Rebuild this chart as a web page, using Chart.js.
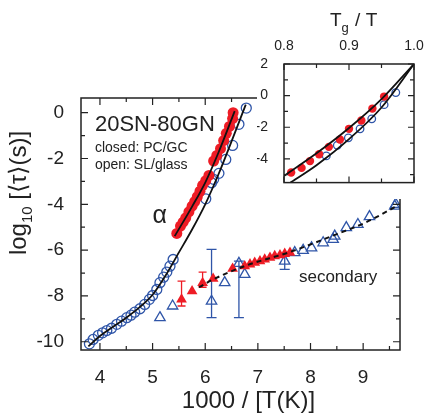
<!DOCTYPE html>
<html>
<head>
<meta charset="utf-8">
<script src="https://cdn.jsdelivr.net/npm/chart.js@4.4.1/dist/chart.umd.min.js"></script>
<style>
  html, body { margin: 0; padding: 0; background: #fff; }
  #wrap { position: relative; width: 425px; height: 413px; }
  #mainChart { position: absolute; left: 0; top: 0; }
  #insetChart { position: absolute; left: 257px; top: 0; background: #fff; }
</style>
</head>
<body>
<div id="wrap">
  <canvas id="mainChart" width="425" height="413"></canvas>
  <canvas id="insetChart" width="168" height="199"></canvas>
</div>
<script>
const FONT = "'Liberation Sans', Arial, sans-serif";
const INK = '#222';
const RED = '#ee1c25';
const BLUE = '#2f55a8';

// alpha relaxation, open circles (SL/glass)
const alphaOpenX = [3.80, 3.87, 3.97, 4.05, 4.13, 4.22, 4.32, 4.41, 4.51, 4.59, 4.66, 4.76, 4.85, 4.94, 5.00, 5.08, 5.14, 5.21, 5.27, 5.33, 5.39, 6.01, 6.12, 6.16, 6.26, 6.39, 6.52, 6.64, 6.78];
const alphaOpenY = [-10.09, -9.90, -9.72, -9.61, -9.51, -9.41, -9.24, -9.10, -8.95, -8.84, -8.71, -8.56, -8.37, -8.15, -7.98, -7.72, -7.42, -7.18, -6.96, -6.70, -6.41, -3.76, -3.06, -2.91, -2.65, -2.04, -1.43, -0.51, 0.20];
// alpha relaxation, closed circles (PC/GC)
const alphaClosedX = [5.46, 5.53, 5.58, 5.63, 5.69, 5.75, 5.80, 5.85, 5.90, 5.95, 6.01, 6.07, 6.16, 6.22, 6.29, 6.35, 6.40, 6.46, 6.52, 6.53];
const alphaClosedY = [-5.27, -4.95, -4.78, -4.59, -4.33, -4.08, -3.88, -3.67, -3.43, -3.17, -2.97, -2.74, -2.11, -1.87, -1.57, -1.22, -0.90, -0.60, -0.26, 0.00];
// fit curves
const alphaOpenFitX = [3.78, 4.0, 4.25, 4.5, 4.75, 5.0, 5.25, 5.5, 5.75, 6.0, 6.25, 6.5, 6.77];
const alphaOpenFitY = [-10.2, -9.75, -9.35, -8.95, -8.5, -7.95, -7.1, -6.1, -5.1, -4.0, -2.7, -1.25, 0.35];
const alphaClosedFitX = [5.42, 5.75, 6.0, 6.25, 6.56];
const alphaClosedFitY = [-5.39, -4.1, -3.05, -1.75, 0.07];

// secondary relaxation
const secOpenX = [5.14, 5.38, 6.12, 6.37, 6.64, 6.75, 7.51, 7.70, 7.86, 8.02, 8.24, 8.43, 8.46, 8.68, 8.90, 9.12, 9.60, 9.62];
const secOpenY = [-8.95, -8.44, -8.23, -7.42, -6.58, -7.06, -6.48, -6.11, -6.01, -5.90, -5.68, -5.53, -5.39, -5.02, -4.88, -4.54, -4.08, -4.00];
const secClosedX = [5.55, 5.75, 5.95, 6.15, 6.52, 6.75, 6.85, 6.94, 7.04, 7.13, 7.23, 7.32, 7.42, 7.51, 7.61];
const secClosedY = [-8.15, -7.79, -7.43, -7.25, -6.81, -6.70, -6.62, -6.55, -6.48, -6.41, -6.33, -6.26, -6.22, -6.16, -6.11];
const secFitX = [5.88, 6.15, 6.78, 7.60, 8.49, 9.06, 9.66];
const secFitY = [-7.62, -7.28, -6.67, -6.09, -5.31, -4.78, -4.05];

// error bars
const secOpenErrX = [6.12, 6.64, 7.51];
const secOpenErrLo = [-8.95, -8.95, -6.84];
const secOpenErrHi = [-5.97, -6.48, -6.20];
const secClosedErrX = [5.55, 5.95];
const secClosedErrLo = [-8.44, -7.62];
const secClosedErrHi = [-7.35, -6.96];

// ticks
const xMajor = [4, 5, 6, 7, 8, 9];
const xMinor = [4.5, 5.5, 6.5, 7.5, 8.5, 9.5];
const yMajor = [0, -2, -4, -6, -8, -10];
const yMinor = [-1, -3, -5, -7, -9];

// inset (Tg / T scaling)
const insetClosedX = [0.811, 0.827, 0.840, 0.854, 0.869, 0.886, 0.900, 0.919, 0.936, 0.954];
const insetClosedY = [-4.86, -4.57, -4.14, -3.71, -3.24, -2.77, -2.10, -1.57, -0.82, -0.06];
const insetOpenX = [0.865, 0.882, 0.899, 0.917, 0.935, 0.954, 0.972];
const insetOpenY = [-3.81, -3.14, -2.67, -2.10, -1.47, -0.57, 0.19];
const insetClosedFitX = [0.80, 0.85, 0.90, 0.95, 1.0];
const insetClosedFitY = [-5.08, -3.65, -2.05, -0.22, 2.0];
const insetOpenFitX = [0.808, 0.85, 0.90, 0.95, 1.0];
const insetOpenFitY = [-5.55, -4.4, -2.75, -0.75, 2.0];
const insetXMajor = [0.8, 0.9, 1.0];
const insetXMinor = [0.85, 0.95];
const insetYMajor = [2, 0, -2, -4];
const insetYMinor = [1, -1, -3, -5];

const pts = (xs, ys) => xs.map((x, i) => ({ x: x, y: ys[i] }));

function fitLine(xs, ys, dashed) {
    return {
        data: pts(xs, ys),
        showLine: true,
        borderColor: '#111',
        borderWidth: dashed ? 2 : 1.8,
        borderDash: dashed ? [5, 4] : [],
        pointRadius: 0,
        cubicInterpolationMode: 'monotone',
        fill: false
    };
}

function marks(xs, ys, style, filled, color, r) {
    return {
        data: pts(xs, ys),
        showLine: false,
        pointStyle: style,
        pointRadius: r,
        pointBackgroundColor: filled ? color : 'rgba(0,0,0,0)',
        pointBorderColor: color,
        pointBorderWidth: filled ? 0 : 1.3
    };
}

// frame with inward ticks on all four sides
function framePlugin(id, o) {
    return {
        id: id,
        afterDatasetsDraw(chart) {
            const { ctx, chartArea: a, scales } = chart;
            ctx.save();
            ctx.strokeStyle = INK;
            ctx.lineWidth = 1.5;
            ctx.strokeRect(a.left, a.top, a.right - a.left, a.bottom - a.top);
            ctx.lineWidth = 1.2;
            const xt = (vals, len) => vals.forEach(v => {
                const px = scales.x.getPixelForValue(v);
                ctx.beginPath();
                ctx.moveTo(px, a.bottom); ctx.lineTo(px, a.bottom - len);
                ctx.moveTo(px, a.top); ctx.lineTo(px, a.top + len);
                ctx.stroke();
            });
            const yt = (vals, len) => vals.forEach(v => {
                const py = scales.y.getPixelForValue(v);
                ctx.beginPath();
                ctx.moveTo(a.left, py); ctx.lineTo(a.left + len, py);
                ctx.moveTo(a.right, py); ctx.lineTo(a.right - len, py);
                ctx.stroke();
            });
            xt(o.xMajor, o.major); xt(o.xMinor, o.minor);
            yt(o.yMajor, o.major); yt(o.yMinor, o.minor);
            ctx.restore();
        }
    };
}

const errorBars = {
    id: 'errorBars',
    beforeDatasetsDraw(chart) {
        const { ctx, scales } = chart;
        const draw = (xs, lo, hi, color, cap) => {
            ctx.strokeStyle = color;
            ctx.lineWidth = 1.3;
            xs.forEach((x, i) => {
                const px = scales.x.getPixelForValue(x);
                const p1 = scales.y.getPixelForValue(lo[i]);
                const p2 = scales.y.getPixelForValue(hi[i]);
                ctx.beginPath();
                ctx.moveTo(px, p1); ctx.lineTo(px, p2);
                ctx.moveTo(px - cap, p1); ctx.lineTo(px + cap, p1);
                ctx.moveTo(px - cap, p2); ctx.lineTo(px + cap, p2);
                ctx.stroke();
            });
        };
        ctx.save();
        draw(secOpenErrX, secOpenErrLo, secOpenErrHi, BLUE, 5);
        draw(secClosedErrX, secClosedErrLo, secClosedErrHi, RED, 4);
        ctx.restore();
    }
};

const mainText = {
    id: 'mainText',
    afterDraw(chart) {
        const { ctx, chartArea: a, scales } = chart;
        const X = v => scales.x.getPixelForValue(v);
        const Y = v => scales.y.getPixelForValue(v);
        ctx.save();
        ctx.fillStyle = INK;
        ctx.textBaseline = 'alphabetic';
        ctx.textAlign = 'left';
        ctx.font = '22px ' + FONT;
        ctx.fillText('20SN-80GN', X(3.905), Y(-0.80));
        ctx.font = '14px ' + FONT;
        ctx.fillText('closed: PC/GC', X(3.905), Y(-1.72));
        ctx.fillText('open: SL/glass', X(3.905), Y(-2.46));
        ctx.font = '25px ' + FONT;
        ctx.fillText('\u03b1', X(5.0), Y(-4.80));
        ctx.font = '17px ' + FONT;
        ctx.fillText('secondary', X(7.78), Y(-7.37));

        // x axis title
        ctx.font = '24px ' + FONT;
        ctx.textAlign = 'center';
        ctx.fillText('1000 / [T(K)]', (a.left + a.right) / 2 + 8, a.bottom + 58);

        // y axis title with subscript
        const parts = [['log', 24, 0], ['10', 15, 6], [' [\u27e8\u03c4\u27e9(s)]', 24, 0]];
        let total = 0;
        parts.forEach(p => { ctx.font = p[1] + 'px ' + FONT; total += ctx.measureText(p[0]).width; });
        ctx.translate(26, 193);
        ctx.rotate(-Math.PI / 2);
        ctx.textAlign = 'left';
        let cx = -total / 2;
        parts.forEach(p => {
            ctx.font = p[1] + 'px ' + FONT;
            ctx.fillText(p[0], cx, p[2]);
            cx += ctx.measureText(p[0]).width;
        });
        ctx.restore();
    }
};

new Chart(document.getElementById('mainChart'), {
    type: 'scatter',
    data: {
        datasets: [
            fitLine(alphaClosedFitX, alphaClosedFitY, false),
            fitLine(alphaOpenFitX, alphaOpenFitY, false),
            fitLine(secFitX, secFitY, true),
            marks(alphaClosedX, alphaClosedY, 'circle', true, RED, 5.5),
            marks(alphaOpenX, alphaOpenY, 'circle', false, BLUE, 5),
            marks(secClosedX, secClosedY, 'triangle', true, RED, 6.2),
            marks(secOpenX, secOpenY, 'triangle', false, BLUE, 6)
        ]
    },
    options: {
        responsive: false,
        animation: false,
        layout: { padding: { left: 0, top: 98, right: 25, bottom: 0 } },
        plugins: { legend: { display: false }, tooltip: { enabled: false } },
        scales: {
            x: {
                type: 'linear', min: 3.64, max: 9.7,
                grid: { display: false }, border: { display: false },
                ticks: { padding: 8, color: INK, font: { size: 19, family: FONT }, maxRotation: 0, autoSkip: false },
                afterBuildTicks: s => { s.ticks = xMajor.map(v => ({ value: v })); },
                afterFit: s => { s.height = 63; }
            },
            y: {
                type: 'linear', min: -10.36, max: 0.64,
                grid: { display: false }, border: { display: false },
                ticks: { padding: 9, color: INK, font: { size: 19, family: FONT }, autoSkip: false },
                afterBuildTicks: s => { s.ticks = yMajor.map(v => ({ value: v })); },
                afterFit: s => { s.width = 81; }
            }
        }
    },
    plugins: [errorBars, framePlugin('mainFrame', { xMajor, xMinor, yMajor, yMinor, major: 7, minor: 4 }), mainText]
});

const insetText = {
    id: 'insetText',
    afterDraw(chart) {
        const ctx = chart.ctx;
        ctx.save();
        ctx.fillStyle = INK;
        ctx.textBaseline = 'alphabetic';
        ctx.textAlign = 'left';
        let x = 73;
        ctx.font = '19px ' + FONT;
        ctx.fillText('T', x, 26);
        x += ctx.measureText('T').width;
        ctx.font = '13px ' + FONT;
        ctx.fillText('g', x, 32);
        x += ctx.measureText('g').width + 1;
        ctx.font = '19px ' + FONT;
        ctx.fillText(' / T', x, 26);
        ctx.restore();
    }
};

new Chart(document.getElementById('insetChart'), {
    type: 'scatter',
    data: {
        datasets: [
            fitLine(insetClosedFitX, insetClosedFitY, false),
            fitLine(insetOpenFitX, insetOpenFitY, false),
            marks(insetClosedX, insetClosedY, 'circle', true, RED, 4.2),
            marks(insetOpenX, insetOpenY, 'circle', false, BLUE, 3.8)
        ]
    },
    options: {
        responsive: false,
        animation: false,
        layout: { padding: { left: 0, top: 0, right: 11, bottom: 4 } },
        plugins: { legend: { display: false }, tooltip: { enabled: false } },
        scales: {
            x: {
                type: 'linear', position: 'top', min: 0.8, max: 1.0,
                grid: { display: false }, border: { display: false },
                ticks: { padding: 1, color: INK, font: { size: 14, family: FONT }, maxRotation: 0, autoSkip: false,
                         callback: v => v.toFixed(1) },
                afterBuildTicks: s => { s.ticks = insetXMajor.map(v => ({ value: v })); },
                afterFit: s => { s.height = 64; }
            },
            y: {
                type: 'linear', min: -5.5, max: 2,
                grid: { display: false }, border: { display: false },
                ticks: { padding: 8, color: INK, font: { size: 14, family: FONT }, autoSkip: false },
                afterBuildTicks: s => { s.ticks = insetYMajor.map(v => ({ value: v })); },
                afterFit: s => { s.width = 27; }
            }
        }
    },
    plugins: [framePlugin('insetFrame', { xMajor: insetXMajor, xMinor: insetXMinor, yMajor: insetYMajor, yMinor: insetYMinor, major: 6, minor: 4 }), insetText]
});
</script>
</body>
</html>
